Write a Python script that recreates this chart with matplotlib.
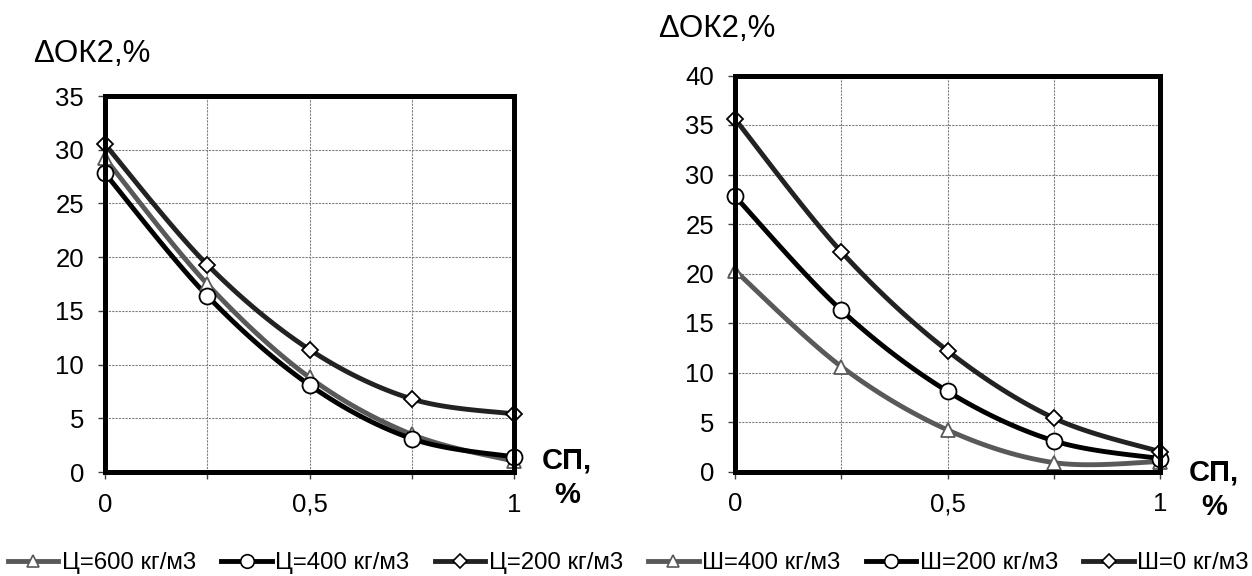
"""
ΔОК2 vs СП: две панели (Ц и Ш), сглаженные линии как в Excel
"""
import matplotlib
matplotlib.use('Agg')
import matplotlib.pyplot as plt
import numpy as np

plt.rcParams['font.family'] = ['Liberation Sans', 'DejaVu Sans']
plt.rcParams['font.size'] = 18

# ── Data ──
sp = [0, 0.25, 0.5, 0.75, 1]

# left panel: cement content
c600 = [29.2, 17.5, 8.8, 3.5, 1.0]
c400 = [27.8, 16.4, 8.1, 3.1, 1.4]
c200 = [30.5, 19.3, 11.4, 6.8, 5.4]

# right panel: slag content
s400 = [20.3, 10.6, 4.2, 0.9, 1.0]
s200 = [27.8, 16.3, 8.1, 3.1, 1.3]
s0 = [35.6, 22.2, 12.2, 5.4, 2.0]

labels_left = ['Ц=600 кг/м3', 'Ц=400 кг/м3', 'Ц=200 кг/м3']
labels_right = ['Ш=400 кг/м3', 'Ш=200 кг/м3', 'Ш=0 кг/м3']

xticklabels = ['0', '', '0,5', '', '1']


def smooth(x, y, n=30):
    # Catmull-Rom -> cubic Bezier, same idea as Excel "smoothed line"
    x = np.asarray(x, float)
    y = np.asarray(y, float)
    P = np.column_stack([x, y])
    P = np.vstack([P[0], P, P[-1]])
    out = []
    t = np.linspace(0, 1, n)[:, None]
    for i in range(1, len(P) - 2):
        p0, p3 = P[i], P[i + 1]
        p1 = p0 + (P[i + 1] - P[i - 1]) / 6
        p2 = p3 - (P[i + 2] - P[i]) / 6
        seg = ((1 - t) ** 3) * p0 + 3 * ((1 - t) ** 2) * t * p1 \
            + 3 * (1 - t) * t ** 2 * p2 + t ** 3 * p3
        out.append(seg if i == 1 else seg[1:])
    out = np.vstack(out)
    return out[:, 0], out[:, 1]


styles = [
    dict(color='#595959', marker='^', ms=10.5, mec='#595959'),
    dict(color='#000000', marker='o', ms=11.5, mec='#000000'),
    dict(color='#222222', marker='D', ms=8.5, mec='#000000'),
]

fig = plt.figure(figsize=(12.52, 5.76), dpi=100)
W, H = 1252, 576
ax1 = fig.add_axes([105 / W, 1 - 472 / H, (514 - 105) / W, (472 - 96) / H])
ax2 = fig.add_axes([735 / W, 1 - 471.5 / H, (1160 - 735) / W, (471.5 - 75.5) / H])

handles = []
for ax, series, labels in [(ax1, [c600, c400, c200], labels_left),
                           (ax2, [s400, s200, s0], labels_right)]:
    for ys, lab, st in zip(series, labels, styles):
        xs_s, ys_s = smooth(sp, ys)
        ax.plot(xs_s, ys_s, color=st['color'], lw=3.5, solid_capstyle='round',
                zorder=3, clip_on=False)
        ax.plot(sp, ys, ls='none', marker=st['marker'], ms=st['ms'],
                mfc='white', mec=st['mec'], mew=1.3, zorder=4, clip_on=False)
        h, = ax.plot([], [], color=st['color'], lw=3.5, marker=st['marker'],
                     ms=st['ms'] * 0.85, mfc='white', mec=st['mec'], mew=1.2)
        handles.append((h, lab))

    ax.set_xlim(0, 1)
    ax.set_xticks(sp)
    ax.set_xticklabels(xticklabels)
    ax.grid(True, color='#808080', lw=0.8, ls=(0, (2, 1)), zorder=1)
    for s in ax.spines.values():
        s.set_linewidth(3.6)
        s.set_color('black')
        s.set_zorder(5)
    ax.tick_params(axis='both', direction='out', length=5, width=1,
                   color='#404040', labelsize=18.5)
    ax.tick_params(axis='y', pad=10)
    ax.tick_params(axis='x', pad=10)

ax1.set_ylim(0, 35)
ax1.set_yticks(range(0, 36, 5))
ax2.set_ylim(0, 40)
ax2.set_yticks(range(0, 41, 5))

# axis titles
fig.text(33 / W, 1 - 62 / H, 'ΔОК2,%', fontsize=22.5, ha='left', va='baseline')
fig.text(658 / W, 1 - 37 / H, 'ΔОК2,%', fontsize=22.5, ha='left', va='baseline')
fig.text(567 / W, 1 - 503 / H, 'СП,\n%', fontsize=21, fontweight='bold',
         ha='center', va='baseline', multialignment='center', linespacing=1.3)
fig.text(1214 / W, 1 - 515 / H, 'СП,\n%', fontsize=21, fontweight='bold',
         ha='center', va='baseline', multialignment='center', linespacing=1.3)

fig.legend([h for h, _ in handles], [l for _, l in handles],
           loc='center left', bbox_to_anchor=(8 / W, 1 - 563 / H), ncol=6,
           frameon=False, fontsize=17.3, handlelength=2.1, handletextpad=0.15,
           columnspacing=1.05, borderpad=0, borderaxespad=0, numpoints=1)

plt.savefig('out.png', dpi=100, facecolor='white')
plt.close()
